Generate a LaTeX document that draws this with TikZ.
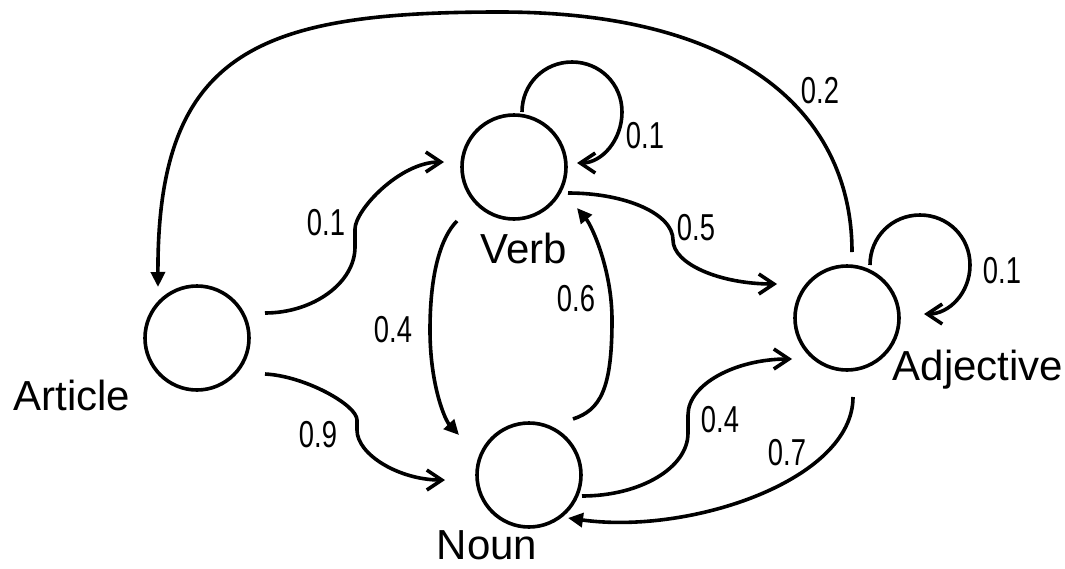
\documentclass[tikz,border=0pt]{standalone}
\usepackage{fontspec}
\setmainfont{Liberation Sans}
\newfontfamily\numfont{Liberation Sans}[FakeStretch=0.73]
\usetikzlibrary{arrows.meta,calc}

\begin{document}
\begin{tikzpicture}[x=1pt,y=-1pt,
  state/.style={circle,draw,line width=3.6pt,minimum size=104pt,inner sep=0pt},
  lbl/.style={font=\fontsize{42}{42}\selectfont,anchor=base,inner sep=0pt},
  prob/.style={font=\fontsize{37.5}{37.5}\selectfont\numfont,anchor=base,inner sep=0pt},
  link/.style={line width=3.6pt,line cap=butt},
  barbedge/.style={link,-{Straight Barb[length=15pt,width=20pt]}},
  triedge/.style={link,-{Triangle[length=15pt,width=14pt]}},
]
\useasboundingbox (0,0) rectangle (1065,568);

% states
\node[state] (art)  at (197,338) {};
\node[state] (verb) at (514,167) {};
\node[state] (noun) at (529,475) {};
\node[state] (adj)  at (847,318) {};

% state names
\node[lbl] (artname)  at (72,410)  {Article};
\node[lbl] (verbname) at (524,263) {Verb};
\node[lbl] (nounname) at (487,559) {Noun};
\node[lbl] (adjname)  at (978,380) {Adjective};

% Adjective -> Article, the long arc over the top
\draw[triedge] ($(adj)+(5,-66)$) .. controls (852,120) and (750,12) .. (500,12)
  .. controls (260,12) and (157,50) .. ($(art)+(-39,-51)$);

% Article -> Verb
\draw[barbedge] ($(art)+(68,-25)$) .. controls (313,313) and (355,283) .. (355,247)
  -- (355,229) .. controls (355,210) and (400,162) .. ($(verb)+(-70,-5)$);

% Article -> Noun
\draw[barbedge] ($(art)+(68,36)$) .. controls (305,376) and (357,405) .. (357,420)
  -- (357,430) .. controls (357,455) and (400,480) .. ($(noun)+(-84,5)$);

% Verb -> Noun
\draw[triedge] ($(verb)+(-57,54)$) .. controls (442,236) and (430,270) .. (430,330)
  .. controls (430,385) and (445,420) .. ($(noun)+(-70,-40)$);

% Noun -> Verb
\draw[triedge] ($(noun)+(44,-56)$) .. controls (600,410) and (612,390) .. (612,320)
  .. controls (612,270) and (592,226) .. ($(verb)+(63,41)$);

% Verb -> Adjective
\draw[barbedge] ($(verb)+(54,26)$) .. controls (626,193) and (673,214) .. (673,240)
  .. controls (673,264) and (720,284) .. ($(adj)+(-70,-34)$);

% Noun -> Adjective
\draw[barbedge] ($(noun)+(53,21)$) .. controls (640,496) and (688,468) .. (688,433)
  -- (688,415) .. controls (688,384) and (736,359) .. ($(adj)+(-55,41)$);

% Adjective -> Noun
\draw[triedge] ($(adj)+(6,79)$) .. controls (853,480) and (690,535) .. ($(noun)+(39,43)$);

% self loops
\draw[barbedge] ($(verb)+(8,-55)$) .. controls (522,84) and (544,62) .. (572,62)
  .. controls (600,62) and (622,84) .. (622,112)
  .. controls (622,140) and (602,163) .. ($(verb)+(63,-4)$);
\draw[barbedge] ($(adj)+(23,-53)$) .. controls (870,237) and (892,215) .. (920,215)
  .. controls (948,215) and (970,237) .. (970,265)
  .. controls (970,293) and (949,314) .. ($(adj)+(77,-4)$);

% transition probabilities
\node[prob] (p1) at (326,235) {0.1};
\node[prob] (p2) at (820,103) {0.2};
\node[prob] (p3) at (645,148) {0.1};
\node[prob] (p4) at (696,240) {0.5};
\node[prob] (p5) at (1002,283) {0.1};
\node[prob] (p6) at (393,342) {0.4};
\node[prob] (p7) at (576,311) {0.6};
\node[prob] (p8) at (318,447) {0.9};
\node[prob] (p9) at (720,432) {0.4};
\node[prob] (p10) at (787,465) {0.7};
\end{tikzpicture}
\end{document}
